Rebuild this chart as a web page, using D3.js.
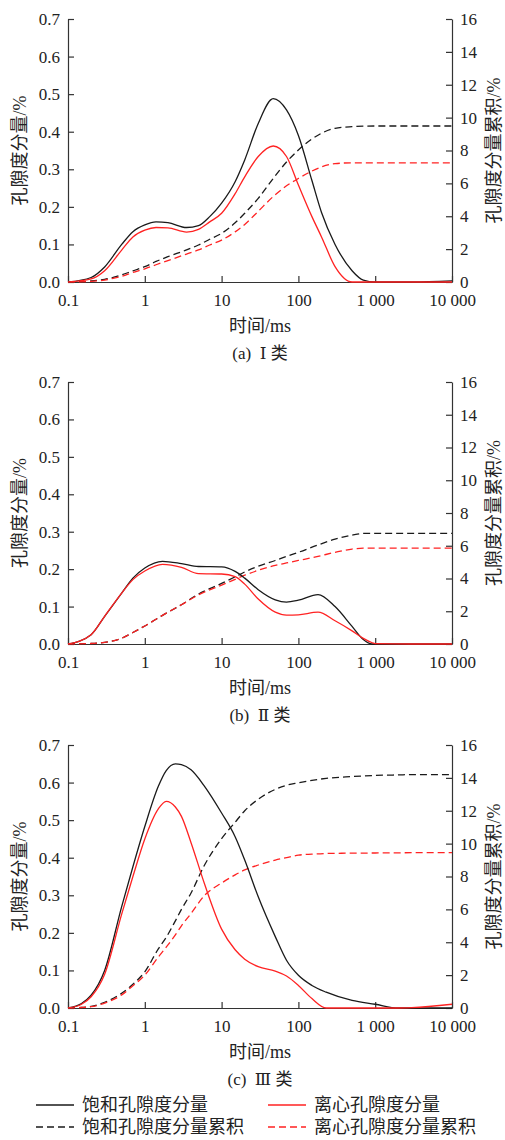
<!DOCTYPE html>
<html>
<head>
<meta charset="utf-8">
<script src="https://cdn.jsdelivr.net/npm/d3@7"></script>
<style>
  body { margin: 0; background: #fff; }
</style>
</head>
<body>
<div id="chart"></div>
<script>
var width = 505, height = 1140
const font = "'Liberation Serif', 'Times New Roman', 'DejaVu Serif', 'Noto Sans CJK SC', serif"

// x ticks
const xTicks = [0.1, 1, 10, 100, 1000, 10000]
const xTickLabels = ["0.1", "1", "10", "100", "1 000", "10 000"]
const leftTicks = [0, 0.1, 0.2, 0.3, 0.4, 0.5, 0.6, 0.7]
const rightTicks = [0, 2, 4, 6, 8, 10, 12, 14, 16]

const captions = ["(a) \u00a0Ⅰ\u00a0类", "(b) \u00a0Ⅱ\u00a0类", "(c) \u00a0Ⅲ\u00a0类"]
const seriesNames = ["饱和孔隙度分量", "离心孔隙度分量", "饱和孔隙度分量累积", "离心孔隙度分量累积"]

// panel (a)
const timeA = [0.1, 0.2, 0.3, 0.5, 0.7, 1, 1.4, 2, 3.5, 5, 7, 10, 15, 20, 30, 47, 70, 100, 150, 200, 300, 500, 700, 1000, 3000, 10000]
const satA = [0, 0.012, 0.04, 0.10, 0.134, 0.152, 0.16, 0.158, 0.145, 0.15, 0.174, 0.21, 0.267, 0.325, 0.422, 0.488, 0.458, 0.39, 0.27, 0.185, 0.1, 0.03, 0.005, 0, 0, 0.003]
const cenA = [0, 0.008, 0.03, 0.085, 0.12, 0.138, 0.145, 0.144, 0.133, 0.14, 0.16, 0.183, 0.235, 0.28, 0.334, 0.362, 0.334, 0.258, 0.174, 0.12, 0.041, 0, 0, 0, 0, 0]
const satCumA = [0, 0.06, 0.16, 0.43, 0.68, 0.93, 1.25, 1.54, 1.95, 2.25, 2.6, 2.96, 3.6, 4.18, 5.09, 6.3, 7.3, 8.03, 8.7, 9.05, 9.35, 9.45, 9.48, 9.49, 9.49, 9.49]
const cenCumA = [0, 0.04, 0.12, 0.35, 0.58, 0.8, 1.05, 1.3, 1.7, 1.95, 2.25, 2.55, 3.05, 3.5, 4.3, 5.2, 5.85, 6.3, 6.75, 7.0, 7.2, 7.25, 7.25, 7.25, 7.25, 7.25]

// panel (b)
const timeB = [0.1, 0.2, 0.3, 0.5, 0.7, 1, 1.7, 3, 5, 10, 15, 20, 30, 50, 70, 100, 180, 300, 500, 700, 900, 1000, 3000, 10000]
const satB = [0, 0.025, 0.074, 0.136, 0.176, 0.203, 0.221, 0.215, 0.207, 0.206, 0.194, 0.176, 0.145, 0.118, 0.112, 0.117, 0.132, 0.10, 0.047, 0.012, 0, 0, 0, 0]
const cenB = [0, 0.025, 0.074, 0.136, 0.172, 0.195, 0.213, 0.205, 0.188, 0.187, 0.18, 0.16, 0.12, 0.085, 0.077, 0.078, 0.085, 0.062, 0.035, 0.015, 0.004, 0.001, 0, 0]
const satCumB = [0, 0.03, 0.1, 0.35, 0.7, 1.1, 1.75, 2.4, 3.05, 3.7, 4.1, 4.4, 4.75, 5.1, 5.35, 5.6, 6.05, 6.4, 6.65, 6.75, 6.75, 6.75, 6.75, 6.75]
const cenCumB = [0, 0.03, 0.1, 0.35, 0.7, 1.1, 1.75, 2.4, 3.0, 3.6, 3.95, 4.2, 4.5, 4.8, 4.95, 5.1, 5.35, 5.6, 5.8, 5.85, 5.85, 5.85, 5.85, 5.85]

// panel (c)
const timeC = [0.1, 0.15, 0.2, 0.3, 0.5, 0.7, 1, 1.5, 1.9, 2.5, 3, 4, 6, 10, 15, 20, 30, 50, 70, 100, 150, 230, 500, 1000, 2000, 3000, 10000]
const satC = [0, 0.012, 0.034, 0.10, 0.27, 0.376, 0.483, 0.59, 0.632, 0.65, 0.648, 0.634, 0.59, 0.519, 0.456, 0.394, 0.296, 0.19, 0.127, 0.087, 0.06, 0.042, 0.02, 0.01, 0, 0, 0]
const cenC = [0, 0.01, 0.03, 0.09, 0.25, 0.35, 0.45, 0.53, 0.55, 0.535, 0.51, 0.44, 0.33, 0.21, 0.155, 0.13, 0.11, 0.098, 0.085, 0.06, 0.025, 0, 0, 0, 0, 0.001, 0.01]
const satCumC = [0, 0.03, 0.1, 0.35, 0.9, 1.45, 2.2, 3.6, 4.3, 5.3, 6.0, 7.0, 8.7, 10.3, 11.3, 12.0, 12.7, 13.3, 13.55, 13.7, 13.85, 13.97, 14.08, 14.15, 14.18, 14.2, 14.2]
const cenCumC = [0, 0.03, 0.08, 0.3, 0.8, 1.35, 2.0, 3.1, 3.7, 4.45, 5.0, 5.75, 6.85, 7.6, 8.1, 8.4, 8.7, 9.0, 9.15, 9.3, 9.36, 9.4, 9.42, 9.43, 9.44, 9.45, 9.45]

const panels = [
	{ time: timeA, sat: satA, cen: cenA, satCum: satCumA, cenCum: cenCumA, top: 19, bottom: 282 },
	{ time: timeB, sat: satB, cen: cenB, satCum: satCumB, cenCum: cenCumB, top: 382, bottom: 644 },
	{ time: timeC, sat: satC, cen: cenC, satCum: satCumC, cenCum: cenCumC, top: 745, bottom: 1008 }
]

const black = "#1a1a1a", red = "#ff2222", axisColor = "#333"
const dash = "7,4"
const left = 68, right = 452

const svg = d3.select('#chart')
	.append('svg')
	.attr('width', width)
	.attr('height', height)
	.style('font-family', font)

const x = d3.scaleLog().domain([0.1, 10000]).range([left, right])

panels.forEach((p, i) => {
	const yL = d3.scaleLinear().domain([0, 0.7]).range([p.bottom, p.top])
	const yR = d3.scaleLinear().domain([0, 16]).range([p.bottom, p.top])
	const g = svg.append("g")

	// axes, ticks point inward
	const axL = g.append("g").attr("transform", `translate(${left},0)`)
		.call(d3.axisLeft(yL).tickValues(leftTicks).tickFormat(d3.format(".1f")).tickSizeInner(-6).tickSizeOuter(0).tickPadding(8))
	const axR = g.append("g").attr("transform", `translate(${right},0)`)
		.call(d3.axisRight(yR).tickValues(rightTicks).tickSizeInner(-6).tickSizeOuter(0).tickPadding(8))
	const axB = g.append("g").attr("transform", `translate(0,${p.bottom})`)
		.call(d3.axisBottom(x).tickValues(xTicks).tickFormat((d, j) => xTickLabels[j]).tickSizeInner(-6).tickSizeOuter(0).tickPadding(12))
	;[axL, axR, axB].forEach(a => {
		a.attr("font-family", font).attr("font-size", 17)
		a.selectAll("path, line").attr("stroke", axisColor).attr("stroke-width", 1.2)
		a.selectAll("text").attr("fill", "#222")
	})

	// curves
	const lineL = d3.line().x((d, j) => x(p.time[j])).y(d => yL(d)).curve(d3.curveMonotoneX)
	const lineR = d3.line().x((d, j) => x(p.time[j])).y(d => yR(d)).curve(d3.curveMonotoneX)
	const series = [
		{ v: p.satCum, line: lineR, color: black, dash: dash },
		{ v: p.cenCum, line: lineR, color: red, dash: dash },
		{ v: p.sat, line: lineL, color: black, dash: null },
		{ v: p.cen, line: lineL, color: red, dash: null }
	]
	g.selectAll("path.curve")
		.data(series)
		.join("path")
		.attr("class", "curve")
		.attr("d", d => d.line(d.v))
		.attr("fill", "none")
		.attr("stroke", d => d.color)
		.attr("stroke-width", 1.3)
		.attr("stroke-dasharray", d => d.dash)

	// labels
	const midY = (p.top + p.bottom) / 2
	g.append("text")
		.attr("transform", `translate(20,${midY}) rotate(-90)`)
		.attr("text-anchor", "middle")
		.attr("dominant-baseline", "central")
		.attr("font-size", 18)
		.attr("fill", "#222")
		.text("孔隙度分量/%")
	g.append("text")
		.attr("transform", `translate(494,${midY}) rotate(-90)`)
		.attr("text-anchor", "middle")
		.attr("dominant-baseline", "central")
		.attr("font-size", 18)
		.attr("fill", "#222")
		.text("孔隙度分量累积/%")
	g.append("text")
		.attr("x", 260).attr("y", p.bottom + 44)
		.attr("text-anchor", "middle")
		.attr("dominant-baseline", "central")
		.attr("font-size", 18)
		.attr("fill", "#222")
		.text("时间/ms")
	g.append("text")
		.attr("x", 260).attr("y", p.bottom + 71)
		.attr("text-anchor", "middle")
		.attr("dominant-baseline", "central")
		.attr("font-size", 17)
		.attr("fill", "#222")
		.text(captions[i])
})

// legend
const legendItems = [
	{ name: seriesNames[0], color: black, dash: null, x: 36, y: 1105 },
	{ name: seriesNames[1], color: red, dash: null, x: 268, y: 1105 },
	{ name: seriesNames[2], color: black, dash: dash, x: 36, y: 1127 },
	{ name: seriesNames[3], color: red, dash: dash, x: 268, y: 1127 }
]
const lg = svg.append("g")
lg.selectAll("line")
	.data(legendItems)
	.join("line")
	.attr("x1", d => d.x).attr("x2", d => d.x + 38)
	.attr("y1", d => d.y).attr("y2", d => d.y)
	.attr("stroke", d => d.color)
	.attr("stroke-width", 1.3)
	.attr("stroke-dasharray", d => d.dash)
lg.selectAll("text")
	.data(legendItems)
	.join("text")
	.attr("x", d => d.x + 46)
	.attr("y", d => d.y)
	.attr("dominant-baseline", "central")
	.attr("font-size", 18)
	.attr("fill", "#222")
	.text(d => d.name)
</script>
</body>
</html>
